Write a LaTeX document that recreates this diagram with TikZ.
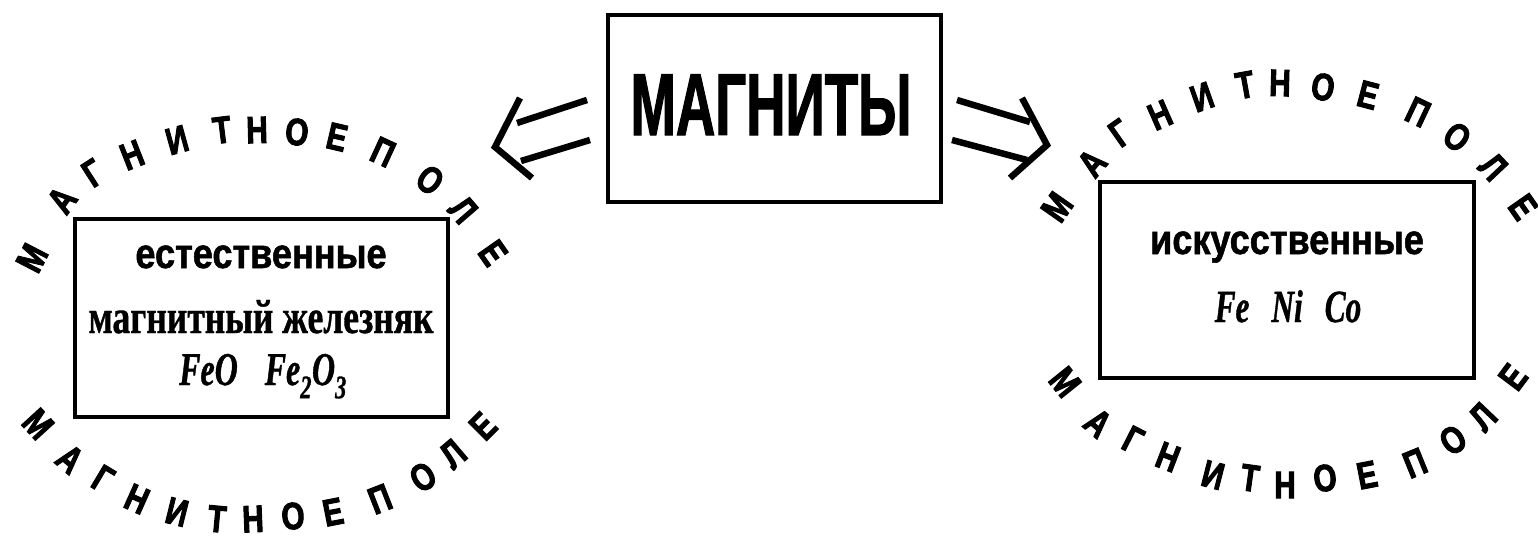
\documentclass[tikz,border=0pt]{standalone}
\usepackage{fontspec}
\setmainfont{Liberation Serif}
\newfontfamily\magfont[FakeStretch=0.62, FakeBold=1.2]{Liberation Sans}
\newfontfamily\kindfont[FakeStretch=0.86, FakeBold=1.2]{Liberation Sans}
\newfontfamily\fieldfont[FakeStretch=0.78, FakeBold=2.5]{Liberation Sans Bold}
\newfontfamily\orefont[FakeStretch=0.74, FakeBold=0.8]{Liberation Serif}
\newfontfamily\chemfont[FakeStretch=0.68, FakeBold=0.8]{Liberation Serif}
\newcommand\fieldchar[1]{{\fieldfont\fontsize{38}{38}\selectfont #1}}
\begin{document}
\begin{tikzpicture}[x=1pt,y=-1pt,
  box/.style={draw, line width=4.5pt, inner sep=0pt},
  shaft/.style={line width=6.5pt, line cap=butt, line join=miter},
  txt/.style={anchor=base, inner sep=0pt},
  fieldletter/.style={inner sep=0pt, anchor=center}
]
\useasboundingbox (0,0) rectangle (1538,539);
\fill[white] (0,0) rectangle (1538,539);

% boxes
\node[box, minimum width=333pt, minimum height=187pt] (mag) at (774.5,108.5) {};
\node[box, minimum width=373pt, minimum height=198pt] (natbox) at (261.5,318) {};
\node[box, minimum width=374pt, minimum height=196pt] (artbox) at (1287,280) {};

% texts
\node[txt] (magtxt) at (771,135) {\magfont\bfseries\fontsize{88}{88}\selectfont МАГНИТЫ};
\node[txt] (nat) at (261,268) {\kindfont\bfseries\fontsize{42}{42}\selectfont естественные};
\node[txt] (ore) at (261,333) {\orefont\bfseries\fontsize{48}{48}\selectfont магнитный железняк};
\node[txt] (oxf) at (263,385) {\chemfont\bfseries\itshape\fontsize{47}{47}\selectfont FeO\hspace{27pt}Fe\textsubscript{2}O\textsubscript{3}};
\node[txt] (art) at (1287,254) {\kindfont\bfseries\fontsize{42}{42}\selectfont искусственные};
\node[txt] (met) at (1288,322) {\chemfont\bfseries\itshape\fontsize{46}{46}\selectfont Fe\hspace{22pt}Ni\hspace{22pt}Co};

% magnetic field lettering, top left
\foreach \x/\y/\r/\c [count=\i] in {32/258/62.6/М, 62/200/54.3/А, 93/173/32.7/Г, 132/155/21.4/Н,
   177/140/15.5/И, 222/130/7.1/Т, 257/130/1.5/Н, 297/132/-5/О, 337/137/-13.1/Е,
   383/152/-24.8/П, 430/180/-35.9/О, 463/210/-49.2/Л, 493/253/-55/Е}
  \node[fieldletter, rotate=\r] (tl\i) at (\x,\y) {\fieldchar{\c}};
% bottom left
\foreach \x/\y/\r/\c [count=\i] in {38/424/-47.6/М, 70/459/-40.2/А, 103/479/-30.8/Г, 137/499/-24/Н,
   177/512/-14/И, 217/519/-5.3/Т, 253/519/2.3/Н, 293/516/5/О, 333/512/11.1/Е,
   380/499/21.3/П, 423/477/31.6/О, 453/454/40.4/Л, 483/426/45/Е}
  \node[fieldletter, rotate=\r] (bl\i) at (\x,\y) {\fieldchar{\c}};
% top right
\foreach \x/\y/\r/\c [count=\i] in {1057/207/55/М, 1092/163/49.6/А, 1120/133/35.2/Г, 1160/115/23.7/Н,
   1202/97/19.4/И, 1245/85/10.2/Т, 1280/83/-1.5/Н, 1323/87/-7.8/О, 1368/95/-14.7/Е,
   1418/112/-25.3/П, 1457/137/-36.3/О, 1493/167/-46.7/Л, 1523/207/-55/Е}
  \node[fieldletter, rotate=\r] (tr\i) at (\x,\y) {\fieldchar{\c}};
% bottom right
\foreach \x/\y/\r/\c [count=\i] in {1065/382/-51.2/М, 1098/423/-40.5/А, 1133/440/-27/Г, 1168/457/-21/Н,
   1213/475/-14.4/И, 1250/478/-7.9/Т, 1285/485/0/Н, 1325/478/6.9/О, 1367/475/11/Е,
   1415/463/22.1/П, 1453/440/34.1/О, 1483/417/46.4/Л, 1513/377/53.1/Е}
  \node[fieldletter, rotate=\r] (br\i) at (\x,\y) {\fieldchar{\c}};

% left double arrow
\coordinate (la1) at (587,100); \coordinate (la2) at (517,123);
\coordinate (lb1) at (590,140); \coordinate (lb2) at (521,161);
\coordinate (lh1) at (520,98); \coordinate (ltip) at (495,147); \coordinate (lh2) at (532,178);
\draw[shaft] (la1) -- (la2);
\draw[shaft] (lb1) -- (lb2);
\draw[shaft] (lh1) -- (ltip) -- (lh2);

% right double arrow
\coordinate (ra1) at (957,100); \coordinate (ra2) at (1030,122);
\coordinate (rb1) at (952,140); \coordinate (rb2) at (1027,160);
\coordinate (rh1) at (1022,98); \coordinate (rtip) at (1047,145); \coordinate (rh2) at (1010,178);
\draw[shaft] (ra1) -- (ra2);
\draw[shaft] (rb1) -- (rb2);
\draw[shaft] (rh1) -- (rtip) -- (rh2);
\end{tikzpicture}
\end{document}
